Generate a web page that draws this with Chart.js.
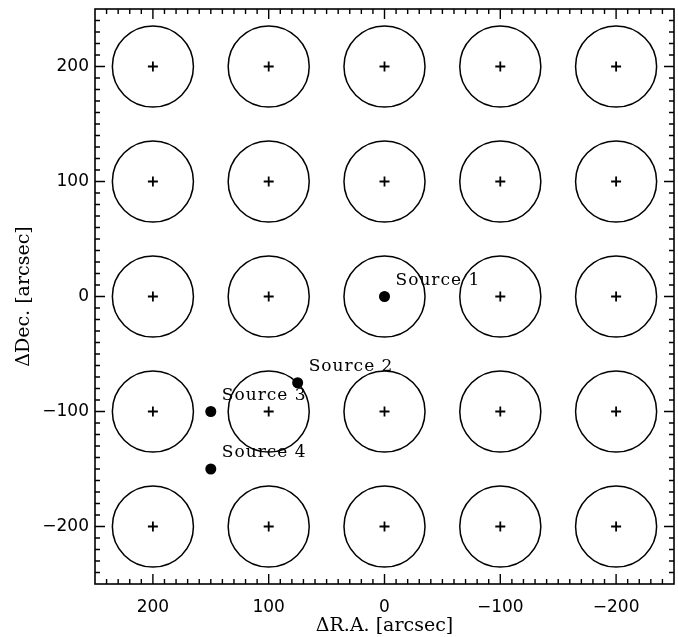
<!DOCTYPE html>
<html>
<head>
<meta charset="utf-8">
<script src="https://cdn.jsdelivr.net/npm/chart.js@4.4.1/dist/chart.umd.min.js"></script>
<style>
  html, body { margin: 0; padding: 0; background: #fff; }
  #wrap { width: 678px; height: 637px; }
</style>
</head>
<body>
<div id="wrap"><canvas id="myChart" width="678" height="637"></canvas></div>
<script>
// pointing grid (arcsec) and beam radius
const gridRA = [200, 100, 0, -100, -200];
const gridDec = [200, 100, 0, -100, -200];
const beamRadius = 35;

// sources
const sourceNames = ['Source 1', 'Source 2', 'Source 3', 'Source 4'];
const sourceRA = [0, 75, 150, 150];
const sourceDec = [0, -75, -100, -150];

// axis ticks
const xTickValues = [200, 100, 0, -100, -200];
const yTickValues = [-200, -100, 0, 100, 200];
const axisMin = -250;
const axisMax = 250;

const pointings = [];
gridDec.forEach(d => gridRA.forEach(r => pointings.push({ x: r, y: d })));
const sources = sourceRA.map((r, i) => ({ x: r, y: sourceDec[i], name: sourceNames[i] }));

const fmt = v => v < 0 ? '\u2212' + Math.abs(v) : String(v);

const boxPlugin = {
    id: 'boxTicks',
    afterDatasetsDraw(chart) {
        const { ctx, chartArea: a, scales } = chart;
        ctx.save();
        ctx.strokeStyle = '#000';
        ctx.lineWidth = 1.6;
        ctx.strokeRect(a.left, a.top, a.right - a.left, a.bottom - a.top);
        ctx.lineWidth = 1.4;
        ctx.beginPath();
        for (let v = -240; v <= 240; v += 10) {
            const len = v % 100 === 0 ? 10 : 5;
            const px = scales.x.getPixelForValue(v);
            ctx.moveTo(px, a.bottom); ctx.lineTo(px, a.bottom - len);
            ctx.moveTo(px, a.top); ctx.lineTo(px, a.top + len);
            const py = scales.y.getPixelForValue(v);
            ctx.moveTo(a.left, py); ctx.lineTo(a.left + len, py);
            ctx.moveTo(a.right, py); ctx.lineTo(a.right - len, py);
        }
        ctx.stroke();

        // source labels
        ctx.fillStyle = '#000';
        ctx.font = '17px "DejaVu Serif"';
        ctx.textBaseline = 'middle';
        ctx.textAlign = 'left';
        if ('letterSpacing' in ctx) ctx.letterSpacing = '1px';
        sources.forEach(s => {
            const px = scales.x.getPixelForValue(s.x);
            const py = scales.y.getPixelForValue(s.y);
            ctx.fillText(s.name, px + 11, py - 16);
        });
        ctx.restore();
    }
};

new Chart(document.getElementById('myChart').getContext('2d'), {
    type: 'scatter',
    data: {
        datasets: [
            {
                label: 'beams',
                data: pointings,
                pointStyle: 'circle',
                backgroundColor: 'rgba(0,0,0,0)',
                borderColor: '#000',
                borderWidth: 1.5,
                pointRadius: (c) => {
                    const x = c.chart.scales.x;
                    return Math.abs(x.getPixelForValue(beamRadius) - x.getPixelForValue(0));
                }
            },
            {
                label: 'centres',
                data: pointings,
                pointStyle: 'cross',
                borderColor: '#000',
                borderWidth: 1.8,
                pointRadius: 5
            },
            {
                label: 'sources',
                data: sources,
                pointStyle: 'circle',
                backgroundColor: '#000',
                borderColor: '#000',
                borderWidth: 0,
                pointRadius: 5.5
            }
        ]
    },
    options: {
        responsive: false,
        animation: false,
        events: [],
        layout: { autoPadding: false, padding: { top: 9, right: 4, left: 0, bottom: 0 } },
        plugins: {
            legend: { display: false },
            tooltip: { enabled: false }
        },
        scales: {
            x: {
                type: 'linear',
                reverse: true,
                min: axisMin,
                max: axisMax,
                afterBuildTicks: (s) => { s.ticks = xTickValues.map(v => ({ value: v })); },
                afterFit: (s) => { s.height = 53; s.paddingLeft = 0; s.paddingRight = 0; },
                grid: { display: false, drawTicks: false },
                border: { display: false },
                ticks: {
                    color: '#000',
                    padding: 13,
                    font: { family: 'DejaVu Sans', size: 17 },
                    callback: fmt
                },
                title: {
                    display: true,
                    text: '\u0394R.A. [arcsec]',
                    color: '#000',
                    font: { family: 'DejaVu Serif', size: 19 },
                    padding: { top: 0, bottom: 0 }
                }
            },
            y: {
                type: 'linear',
                min: axisMin,
                max: axisMax,
                afterBuildTicks: (s) => { s.ticks = yTickValues.map(v => ({ value: v })); },
                afterFit: (s) => { s.width = 95; s.paddingTop = 0; s.paddingBottom = 0; },
                grid: { display: false, drawTicks: false },
                border: { display: false },
                ticks: {
                    color: '#000',
                    padding: 6,
                    font: { family: 'DejaVu Sans', size: 17 },
                    callback: fmt
                },
                title: {
                    display: true,
                    text: '\u0394Dec. [arcsec]',
                    color: '#000',
                    font: { family: 'DejaVu Serif', size: 19 },
                    padding: { top: 13, bottom: 0 }
                }
            }
        }
    },
    plugins: [boxPlugin]
});
</script>
</body>
</html>
